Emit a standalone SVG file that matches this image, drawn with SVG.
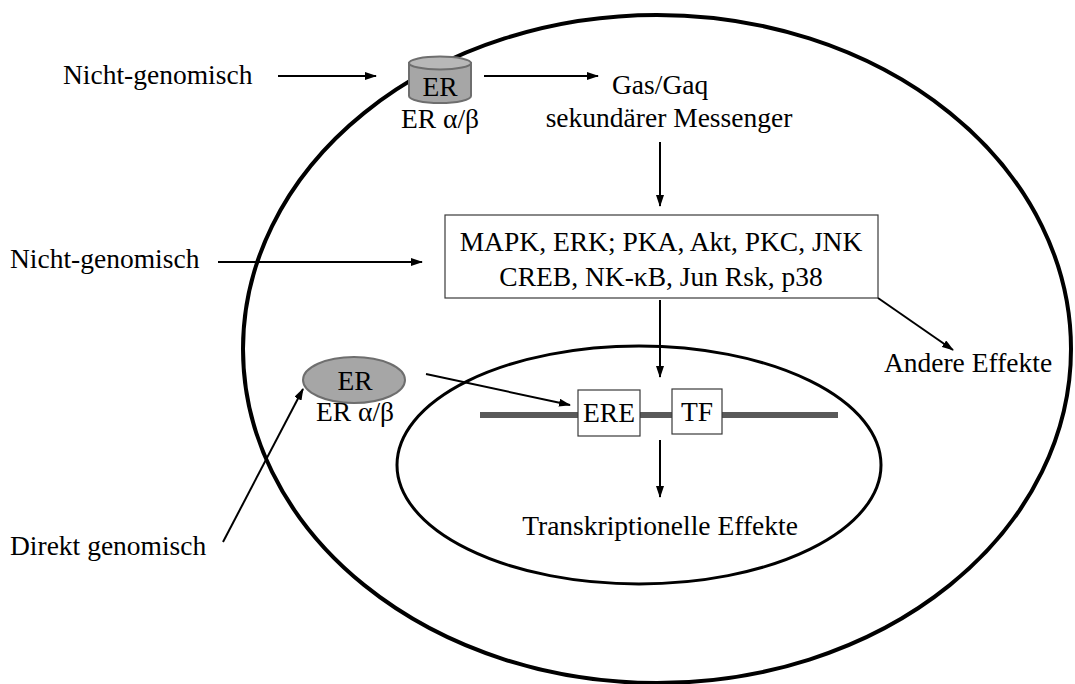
<svg xmlns="http://www.w3.org/2000/svg" width="1075" height="684" viewBox="0 0 1075 684">
  <defs>
    <marker id="arrow" viewBox="0 0 12 8" refX="11" refY="4" markerWidth="6" markerHeight="4" orient="auto" markerUnits="strokeWidth">
      <path d="M0,0 L12,4 L0,8 z" fill="#000"/>
    </marker>
    <style>
      text { font-family: "Liberation Serif", "Times New Roman", serif; font-size: 27.5px; fill: #000; }
      .mid { text-anchor: middle; }
      .conn { stroke: #000; stroke-width: 2; fill: none; marker-end: url(#arrow); }
      .box { fill: #fff; stroke: #3a3a3a; stroke-width: 1.2; }
      .receptor { fill: #a6a6a6; stroke: #6e6e6e; stroke-width: 2; }
    </style>
  </defs>

  <rect width="1075" height="684" fill="#fff"/>

  <!-- cell membrane and nucleus -->
  <g id="cell">
    <ellipse cx="657" cy="349" rx="414" ry="334" fill="none" stroke="#000" stroke-width="4"/>
  </g>
  <g id="nucleus">
    <ellipse cx="639" cy="465" rx="242" ry="119" fill="none" stroke="#000" stroke-width="3"/>
  </g>

  <!-- DNA strand -->
  <g id="dna">
    <line x1="480" y1="415" x2="838" y2="415" stroke="#595959" stroke-width="6"/>
  </g>

  <!-- membrane receptor -->
  <g id="membrane-er">
    <path class="receptor" d="M409,63 L409,96 A31,7 0 0 0 471,96 L471,63 Z"/>
    <ellipse cx="440" cy="63" rx="31" ry="6.5" fill="#b8b8b8" stroke="#6e6e6e" stroke-width="2"/>
    <text x="440" y="96" class="mid">ER</text>
    <text x="440" y="128" class="mid">ER α/β</text>
  </g>

  <!-- cytoplasmic receptor -->
  <g id="cytosol-er">
    <ellipse cx="354" cy="380" rx="51" ry="23" class="receptor"/>
    <text x="355" y="390" class="mid">ER</text>
    <text x="355" y="421" class="mid">ER α/β</text>
  </g>

  <g id="label-nongenomic-1"><text x="63" y="84">Nicht-genomisch</text></g>
  <g id="label-nongenomic-2"><text x="10" y="268">Nicht-genomisch</text></g>
  <g id="label-direct"><text x="10" y="555">Direkt genomisch</text></g>

  <g id="messenger">
    <text x="612" y="94">Gas/Gaq</text>
    <text x="669" y="127" class="mid">sekundärer Messenger</text>
  </g>

  <g id="kinases">
    <rect x="445" y="215" width="433" height="83" class="box"/>
    <text x="661" y="251" class="mid">MAPK, ERK; PKA, Akt, PKC, JNK</text>
    <text x="661" y="286" class="mid">CREB, NK-κB, Jun Rsk, p38</text>
  </g>

  <g id="other-effects"><text x="968" y="372" class="mid">Andere Effekte</text></g>

  <g id="ere">
    <rect x="578" y="390" width="62" height="46" class="box"/>
    <text x="609" y="422" class="mid">ERE</text>
  </g>
  <g id="tf">
    <rect x="672" y="389" width="50" height="45" class="box"/>
    <text x="697" y="421" class="mid">TF</text>
  </g>

  <g id="transcription"><text x="660" y="535" class="mid">Transkriptionelle Effekte</text></g>

  <!-- connectors -->
  <g id="connectors">
    <line class="conn" x1="278" y1="76" x2="376" y2="76"/>
    <line class="conn" x1="484" y1="76" x2="598" y2="76"/>
    <line class="conn" x1="660" y1="142" x2="660" y2="206"/>
    <line class="conn" x1="218" y1="262" x2="422" y2="262"/>
    <line class="conn" x1="660" y1="300" x2="660" y2="377"/>
    <line class="conn" x1="878" y1="298" x2="953" y2="350"/>
    <line class="conn" x1="426" y1="374" x2="570" y2="405"/>
    <line class="conn" x1="223" y1="542" x2="303" y2="389"/>
    <line class="conn" x1="660" y1="440" x2="660" y2="497"/>
  </g>
</svg>
